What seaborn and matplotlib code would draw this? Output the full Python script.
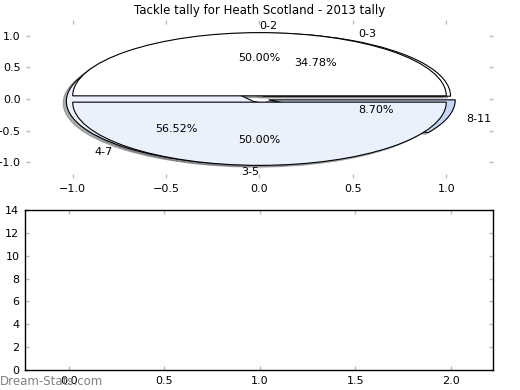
import numpy as np
import seaborn as sns
import matplotlib
matplotlib.use("Agg")
import matplotlib.pyplot as plt

# tackle tally, two seasons split
labels_a = ["0-2", "3-5"]
values_a = [1, 1]

labels_b = ["0-3", "4-7", "8-11"]
values_b = [8, 13, 2]

pie_colors = ["#FFFFFF", "#EBF1FC", "#C6D7F5"]

bar_xticks = [0.0, 0.5, 1.0, 1.5, 2.0]
bar_yticks = [0, 2, 4, 6, 8, 10, 12, 14]

sns.set_style("white")
plt.rcParams["font.family"] = ["DejaVu Sans"]
plt.rcParams["text.color"] = "black"
plt.rcParams["xtick.color"] = "black"
plt.rcParams["ytick.color"] = "black"
plt.rcParams["xtick.direction"] = "in"
plt.rcParams["ytick.direction"] = "in"

fig = plt.figure(figsize=(5.2, 3.9), dpi=100)
ax1 = fig.add_axes([0.05, 0.5436, 0.898, 0.4051])
ax2 = fig.add_axes([0.048, 0.0513, 0.9, 0.4102])

pie_kw = dict(
    autopct="%1.2f%%",
    shadow={"ox": -0.012, "oy": -0.02, "shade": 0.5, "alpha": 0.6},
    startangle=0,
    wedgeprops=dict(edgecolor="black", linewidth=0.8),
    textprops=dict(fontsize=8, color="black"),
)
ax1.pie(values_b, labels=labels_b, explode=[0.05] * len(values_b),
        colors=pie_colors[:len(values_b)], **pie_kw)
_, texts_a, _ = ax1.pie(values_a, labels=labels_a, explode=[0.05] * len(values_a),
                        colors=pie_colors[:len(values_a)], **pie_kw)
# top label sits just right of centre, bottom one just left
texts_a[0].set_horizontalalignment("left")
texts_a[1].set_horizontalalignment("right")

ax1.set_aspect("auto")
ax1.set_frame_on(False)
ax1.set_xlim(-1.25, 1.25)
ax1.set_ylim(-1.25, 1.25)
ax1.set_xticks([-1.0, -0.5, 0.0, 0.5, 1.0])
ax1.set_yticks([-1.0, -0.5, 0.0, 0.5, 1.0])
ax1.set_title("Tackle tally for Heath Scotland - 2013 tally", fontsize=8.5, pad=4)

ax2.set_xlim(-0.23, 2.22)
ax2.set_ylim(0, 14)
ax2.set_xticks(bar_xticks)
ax2.set_yticks(bar_yticks)
for sp in ax2.spines.values():
    sp.set_color("black")
    sp.set_linewidth(1.0)

for ax in (ax1, ax2):
    ax.tick_params(axis="both", which="both", direction="in", length=3, width=1,
                   color="#bbbbbb", labelcolor="black", labelsize=8, pad=4,
                   top=True, right=True, bottom=True, left=True,
                   labeltop=False, labelright=False)

fig.text(0.0, 0.012, "Dream-Stats.com", color="#808080", fontsize=8.5)

fig.savefig("out.png", dpi=100)
